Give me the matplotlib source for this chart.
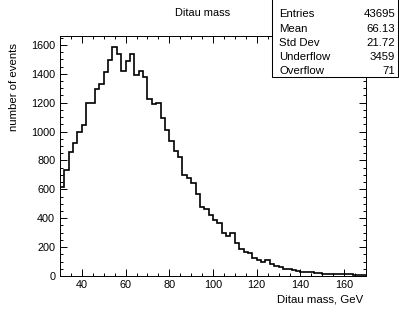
import numpy as np
import matplotlib.pyplot as plt
from matplotlib.patches import Rectangle
from matplotlib.ticker import MultipleLocator

plt.rcParams['font.family'] = ['Liberation Sans', 'DejaVu Sans']

# bin contents, 2 GeV bins from 30 to 170 GeV
counts = [615, 737, 856, 918, 1000, 1044, 1195, 1200, 1295, 1330,
          1412, 1497, 1582, 1536, 1421, 1490, 1536, 1389, 1421, 1376,
          1222, 1188, 1195, 1096, 1009, 936, 863, 826, 702, 679,
          643, 570, 478, 462, 423, 389, 366, 298, 280, 298,
          230, 189, 166, 157, 127, 111, 98, 111, 85, 70,
          64, 48, 48, 41, 36, 25, 27, 25, 20, 18,
          16, 14, 11, 11, 16, 14, 11, 10, 9, 7]
edges = np.arange(30, 171, 2)

stats_names = ['Entries', 'Mean', 'Std Dev', 'Underflow', 'Overflow']
stats_values = ['43695', '66.13', '21.72', '3459', '71']

W, H = 399, 312
fig = plt.figure(figsize=(W / 100, H / 100), dpi=100)
ax = fig.add_axes([60 / W, 1 - 276 / H, 306 / W, 240 / H])

ax.stairs(counts, edges, color='black', linewidth=1.2, baseline=None)
ax.set_xlim(30, 170)
ax.set_ylim(0, 1.05 * max(counts))

ax.xaxis.set_major_locator(MultipleLocator(20))
ax.xaxis.set_minor_locator(MultipleLocator(5))
ax.yaxis.set_major_locator(MultipleLocator(200))
ax.yaxis.set_minor_locator(MultipleLocator(50))
ax.tick_params(which='both', direction='in', top=True, right=True,
               labelsize=7.8, width=0.7)
ax.tick_params(which='major', length=5)
ax.tick_params(which='minor', length=2.5)
ax.tick_params(axis='x', pad=3)
ax.tick_params(axis='y', pad=3.5)
for sp in ax.spines.values():
    sp.set_linewidth(0.7)

fig.text(363 / W, 1 - 299 / H, 'Ditau mass, GeV', ha='right', va='center', fontsize=8.2)
fig.text(14 / W, 1 - 43 / H, 'number of events', ha='center', va='top',
         rotation=90, fontsize=8.2)
fig.text(203 / W, 1 - 13 / H, 'Ditau mass', ha='center', va='center', fontsize=7.9)

# stats box
fig.add_artist(Rectangle((272 / W, 1 - 77 / H), 126 / W, 77 / H + 0.01,
                         transform=fig.transFigure, facecolor='white',
                         edgecolor='black', linewidth=0.75))
rows_y = [14, 29.3, 42.7, 57, 70.7]
for name, val, yy in zip(stats_names, stats_values, rows_y):
    fig.text(279 / W, 1 - yy / H, name, ha='left', va='center', fontsize=8.2)
    fig.text(395 / W, 1 - yy / H, val, ha='right', va='center', fontsize=8.2)

fig.savefig('out.png', dpi=100)
